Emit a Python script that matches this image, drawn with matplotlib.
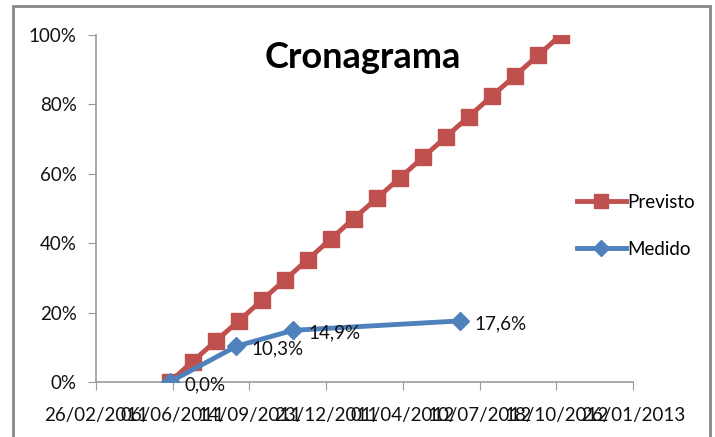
import matplotlib
matplotlib.use("Agg")
import matplotlib.pyplot as plt
from matplotlib.patches import Rectangle
from datetime import datetime

# Cronograma: previsto x medido
previsto_datas = ["2011-06-02", "2011-07-02", "2011-08-01", "2011-08-31", "2011-09-30",
                  "2011-10-30", "2011-11-29", "2011-12-29", "2012-01-28", "2012-02-27",
                  "2012-03-28", "2012-04-27", "2012-05-27", "2012-06-26", "2012-07-26",
                  "2012-08-25", "2012-09-24", "2012-10-24"]
previsto = [0.0, 0.059, 0.118, 0.176, 0.235, 0.294, 0.353, 0.412, 0.471, 0.529,
            0.588, 0.647, 0.706, 0.765, 0.824, 0.882, 0.941, 1.0]

medido_datas = ["2011-06-02", "2011-08-28", "2011-11-10", "2012-06-14"]
medido = [0.0, 0.103, 0.149, 0.176]
medido_rotulos = ["0,0%", "10,3%", "14,9%", "17,6%"]

xticks = ["26/02/2011", "06/06/2011", "14/09/2011", "23/12/2011",
          "01/04/2012", "10/07/2012", "18/10/2012", "26/01/2013"]
yticks = [0, 0.2, 0.4, 0.6, 0.8, 1.0]
ytick_labels = ["0%", "20%", "40%", "60%", "80%", "100%"]

def d(s):
    return datetime.strptime(s, "%Y-%m-%d")

plt.rcParams['font.family'] = ['Lato', 'DejaVu Sans']

fig = plt.figure(figsize=(7.15, 4.37), dpi=100)
ax = fig.add_axes([96 / 715, 1 - 382 / 437, (633 - 96) / 715, (382 - 35) / 437])

vermelho = "#C0504D"
azul = "#4F81BD"

ax.plot([d(s) for s in previsto_datas], previsto, color=vermelho, lw=3.5,
        marker="s", ms=11, label="Previsto", zorder=2)
ax.plot([d(s) for s in medido_datas], medido, color=azul, lw=3.5,
        marker="D", ms=9, label="Medido", zorder=3)

for s, v, t in zip(medido_datas, medido, medido_rotulos):
    ax.annotate(t, (d(s), v), xytext=(11, -2), textcoords="offset points",
                ha="left", va="center", fontsize=13.5, color="#111111")

xt = [datetime.strptime(s, "%d/%m/%Y") for s in xticks]
ax.set_xticks(xt)
ax.set_xticklabels(xticks, fontsize=13.5)
ax.set_xlim(xt[0], xt[-1])
ax.set_ylim(0, 1.0)
ax.set_yticks(yticks)
ax.set_yticklabels(ytick_labels, fontsize=13.5)

for s in ["top", "right"]:
    ax.spines[s].set_visible(False)
for s in ["left", "bottom"]:
    ax.spines[s].set_color("#999999")
    ax.spines[s].set_linewidth(1.2)
ax.tick_params(axis="both", colors="#999999", labelcolor="#111111", length=6)
ax.tick_params(axis="x", pad=12)
ax.tick_params(axis="y", pad=8)

ax.text(363 / 715, 1 - 58 / 437, "Cronagrama", transform=fig.transFigure,
        ha="center", va="center", fontsize=26, fontweight="bold", color="black")

fig.legend(loc="center left", bbox_to_anchor=(560 / 715, 1 - 226 / 437), frameon=False,
           fontsize=13.5, handlelength=2.6, handletextpad=0.1, labelspacing=1.6,
           markerscale=0.9)

fig.patches.append(Rectangle((13 / 715, -0.05), (710 - 13) / 715, 1 - 6 / 437 + 0.05,
                             transform=fig.transFigure, fill=False,
                             edgecolor="#888888", lw=2))

fig.savefig("out.png", dpi=100)
